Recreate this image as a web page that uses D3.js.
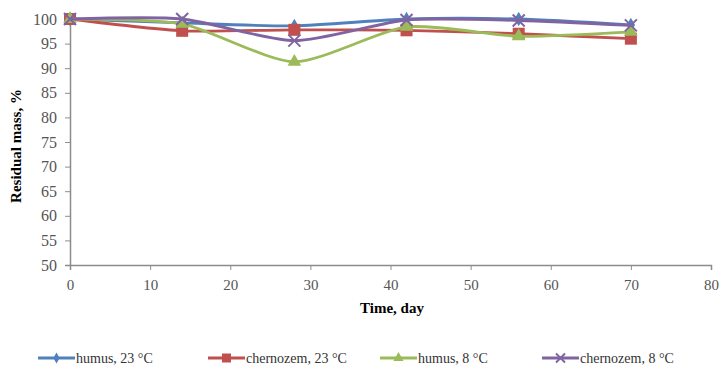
<!DOCTYPE html>
<html>
<head>
<meta charset="utf-8">
<script src="https://cdn.jsdelivr.net/npm/d3@7"></script>
<style>
  body { margin: 0; background: #fff; }
  text { font-family: "Liberation Serif", "Times New Roman", serif; }
</style>
</head>
<body>
<script>
const days = [0, 14, 28, 42, 56, 70];
const humus23 = [100, 99.2, 98.6, 100, 100, 98.8];
const chernozem23 = [100, 97.6, 97.8, 97.7, 97.0, 96.0];
const humus8 = [100, 99.0, 91.3, 98.4, 96.5, 97.4];
const chernozem8 = [100, 100, 95.6, 99.8, 99.7, 98.7];
const seriesNames = ["humus, 23 °C", "chernozem, 23 °C", "humus, 8 °C", "chernozem, 8 °C"];
const colors = ["#4F81BD", "#C0504D", "#9BBB59", "#8064A2"];
const markers = ["diamond", "square", "triangle", "x"];
const xTicks = [0, 10, 20, 30, 40, 50, 60, 70, 80];
const yTicks = [50, 55, 60, 65, 70, 75, 80, 85, 90, 95, 100];

const width = 721, height = 365;
const series = [humus23, chernozem23, humus8, chernozem8].map((vals, i) => ({
    name: seriesNames[i], color: colors[i], marker: markers[i],
    points: days.map((d, j) => ({x: d, y: vals[j]}))
}));

const svg = d3.select("body").append("svg")
    .attr("width", width)
    .attr("height", height);

const x = d3.scaleLinear().domain([0, 80]).range([70, 711]);
const y = d3.scaleLinear().domain([50, 100]).range([265, 19]);

// axes
const gx = svg.append("g").attr("transform", `translate(0,${y(50)})`)
    .call(d3.axisBottom(x).tickValues(xTicks).tickSize(5).tickPadding(9));
const gy = svg.append("g").attr("transform", `translate(${x(0)},0)`)
    .call(d3.axisLeft(y).tickValues(yTicks).tickSize(5).tickPadding(8));
[gx, gy].forEach(g => {
    g.attr("font-family", "'Liberation Serif', 'Times New Roman', serif").attr("font-size", 15);
    g.select(".domain").attr("stroke", "#8c8c8c").attr("stroke-width", 1.5);
    g.selectAll(".tick line").attr("stroke", "#8c8c8c");
    g.selectAll(".tick text").attr("fill", "#555");
});
gy.attr("font-size", 16);

svg.append("text")
    .attr("x", 392).attr("y", 313)
    .attr("text-anchor", "middle")
    .attr("font-weight", "bold").attr("font-size", 15)
    .text("Time, day");

svg.append("text")
    .attr("transform", `translate(21,${(y(50) + y(100)) / 2 + 4}) rotate(-90)`)
    .attr("text-anchor", "middle")
    .attr("font-weight", "bold").attr("font-size", 15)
    .text("Residual mass, %");

function drawMarker(g, type, color, cx, cy, s = 1) {
    if (type === "diamond") {
        g.append("path").attr("d", d3.symbol(d3.symbolDiamond, 60 * s * s)())
            .attr("transform", `translate(${cx},${cy})`).attr("fill", color);
    } else if (type === "square") {
        g.append("rect").attr("x", cx - 6 * s).attr("y", cy - 6 * s)
            .attr("width", 12 * s).attr("height", 12 * s).attr("fill", color);
    } else if (type === "triangle") {
        g.append("path").attr("d", d3.symbol(d3.symbolTriangle, 80 * s * s)())
            .attr("transform", `translate(${cx},${cy})`).attr("fill", color);
    } else {
        const r = 6 * s;
        g.append("path").attr("d", `M${cx-r},${cy-r}L${cx+r},${cy+r}M${cx-r},${cy+r}L${cx+r},${cy-r}`)
            .attr("stroke", color).attr("stroke-width", 2);
    }
}

const line = d3.line()
    .x(d => x(d.x)).y(d => y(d.y))
    .curve(d3.curveCardinal.tension(0.3));

series.forEach(s => {
    const g = svg.append("g");
    g.append("path").datum(s.points)
        .attr("d", line)
        .attr("fill", "none")
        .attr("stroke", s.color)
        .attr("stroke-width", 2.8);
    s.points.forEach(p => drawMarker(g, s.marker, s.color, x(p.x), y(p.y)));
});

// legend
const legendX = [38, 208, 380, 542];
series.forEach((s, i) => {
    const g = svg.append("g").attr("transform", `translate(${legendX[i]},358)`);
    g.append("line").attr("x1", 0).attr("x2", 37).attr("y1", 0).attr("y2", 0)
        .attr("stroke", s.color).attr("stroke-width", 2.8);
    drawMarker(g, s.marker, s.color, 18.5, 0, 0.75);
    g.append("text").attr("x", 38).attr("y", 5)
        .attr("font-size", 14).attr("fill", "#333")
        .text(s.name);
});
</script>
</body>
</html>
